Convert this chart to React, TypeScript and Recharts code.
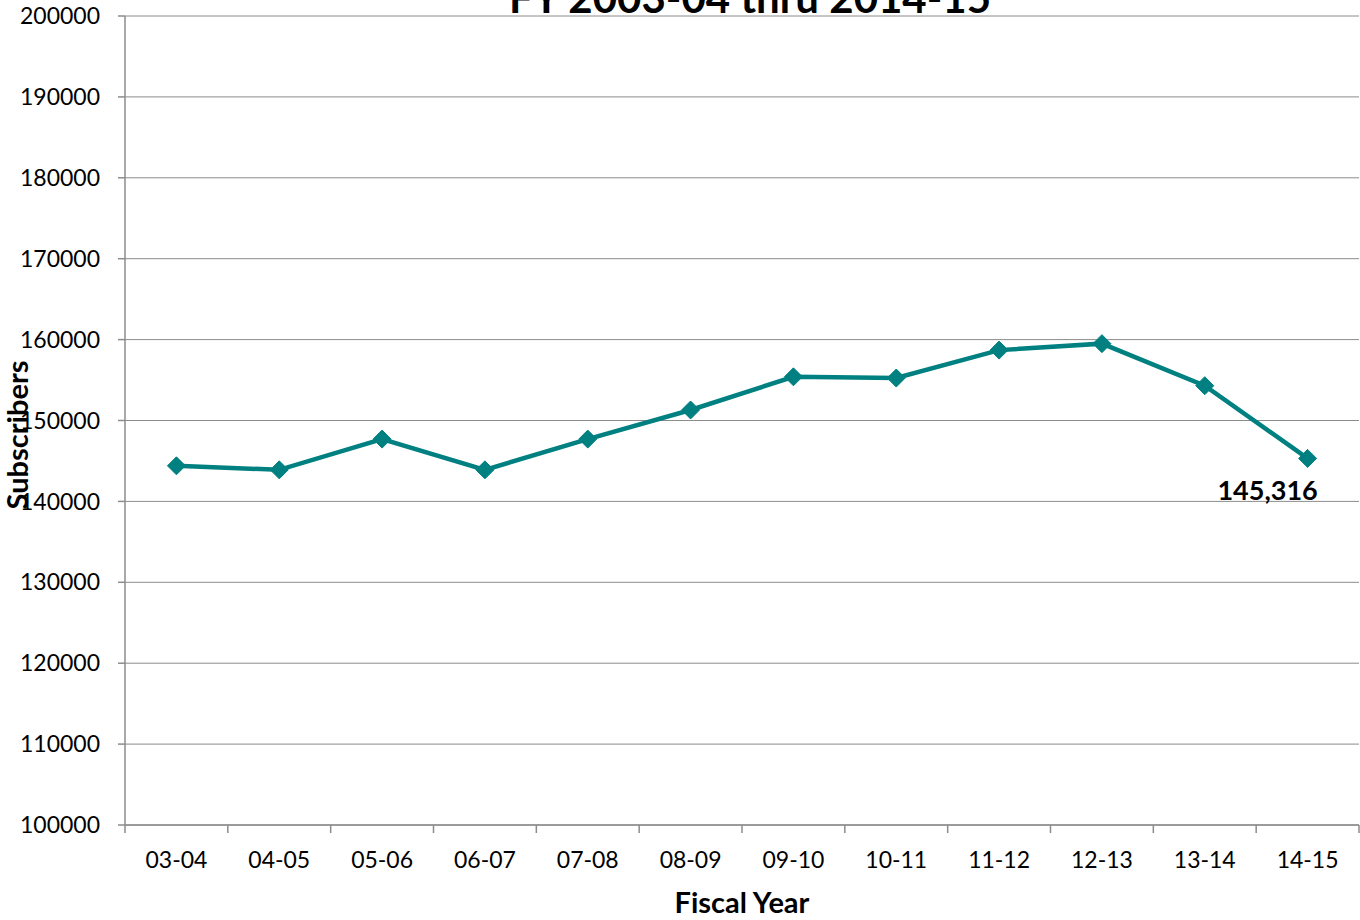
import { LineChart, Line, XAxis, YAxis, CartesianGrid, LabelList } from 'recharts';

const years = ['03-04', '04-05', '05-06', '06-07', '07-08', '08-09', '09-10', '10-11', '11-12', '12-13', '13-14', '14-15'];
const subscribers = [144400, 143900, 147700, 143900, 147700, 151300, 155400, 155250, 158700, 159500, 154300, 145316];
const yTicks = [100000, 110000, 120000, 130000, 140000, 150000, 160000, 170000, 180000, 190000, 200000];

const data = years.map((year, i) => ({ year, subscribers: subscribers[i] }));

const FONT = 'Lato, "Open Sans", sans-serif';
const TEAL = '#008080';
const GRID = '#8c8c8c';

const Diamond = (props: any) => {
  const { cx, cy } = props;
  if (cx == null || cy == null) return null;
  const r = 9;
  return (
    <polygon
      points={`${cx},${cy - r} ${cx + r},${cy} ${cx},${cy + r} ${cx - r},${cy}`}
      fill={TEAL}
      stroke={TEAL}
      strokeWidth={1}
    />
  );
};

// category labels at the band centres, tick marks on the band edges
const YearTick = (props: any) => {
  const { x, y, payload, index, width, visibleTicksCount } = props;
  const band = width / visibleTicksCount;
  const last = index === visibleTicksCount - 1;
  return (
    <g>
      <line x1={x - band / 2} x2={x - band / 2} y1={y} y2={y + 8} stroke={GRID} strokeWidth={1.5} />
      {last && <line x1={x + band / 2} x2={x + band / 2} y1={y} y2={y + 8} stroke={GRID} strokeWidth={1.5} />}
      <text x={x} y={y + 43} textAnchor="middle" fontSize={23} fill="#000" fontFamily={FONT}>
        {payload.value}
      </text>
    </g>
  );
};

const LastLabel = (props: any) => {
  const { x, y, index, value } = props;
  if (index !== subscribers.length - 1) return null;
  return (
    <text x={x - 40} y={y + 42} textAnchor="middle" fontSize={27} fontWeight="bold" fill="#000" fontFamily={FONT}>
      {Number(value).toLocaleString('en-US')}
    </text>
  );
};

export default function App() {
  return (
    <div style={{ position: 'absolute', left: 0, top: 0, width: 1360, height: 920, background: '#fff', fontFamily: FONT }}>
      <LineChart width={1360} height={920} data={data} margin={{ top: 16, right: 1, left: 0, bottom: 0 }}>
        <CartesianGrid vertical={false} stroke={GRID} strokeWidth={1} />
        <XAxis
          dataKey="year"
          scale="band"
          height={95}
          tickSize={0}
          tickMargin={0}
          tickLine={false}
          axisLine={{ stroke: GRID, strokeWidth: 1.5 }}
          tick={<YearTick />}
          interval={0}
        />
        <YAxis
          width={125}
          domain={[100000, 200000]}
          ticks={yTicks}
          interval={0}
          tickSize={7}
          tickMargin={18}
          tickLine={{ stroke: GRID, strokeWidth: 1.5 }}
          axisLine={{ stroke: GRID, strokeWidth: 1.5 }}
          tick={{ fontSize: 23, fill: '#000', fontFamily: FONT }}
        />
        <Line
          type="linear"
          dataKey="subscribers"
          stroke={TEAL}
          strokeWidth={4.5}
          dot={<Diamond />}
          activeDot={false}
          isAnimationActive={false}
        >
          <LabelList dataKey="subscribers" content={<LastLabel />} />
        </Line>
        <text x={750} y={13} textAnchor="middle" fontSize={42} fontWeight="bold" fill="#000" fontFamily={FONT}>
          FY 2003-04 thru 2014-15
        </text>
        <text
          x={28}
          y={435}
          transform="rotate(-90 28 435)"
          textAnchor="middle"
          fontSize={29}
          fontWeight="bold"
          fill="#000"
          fontFamily={FONT}
        >
          Subscribers
        </text>
        <text x={742} y={913} textAnchor="middle" fontSize={29} fontWeight="bold" fill="#000" fontFamily={FONT}>
          Fiscal Year
        </text>
      </LineChart>
    </div>
  );
}
